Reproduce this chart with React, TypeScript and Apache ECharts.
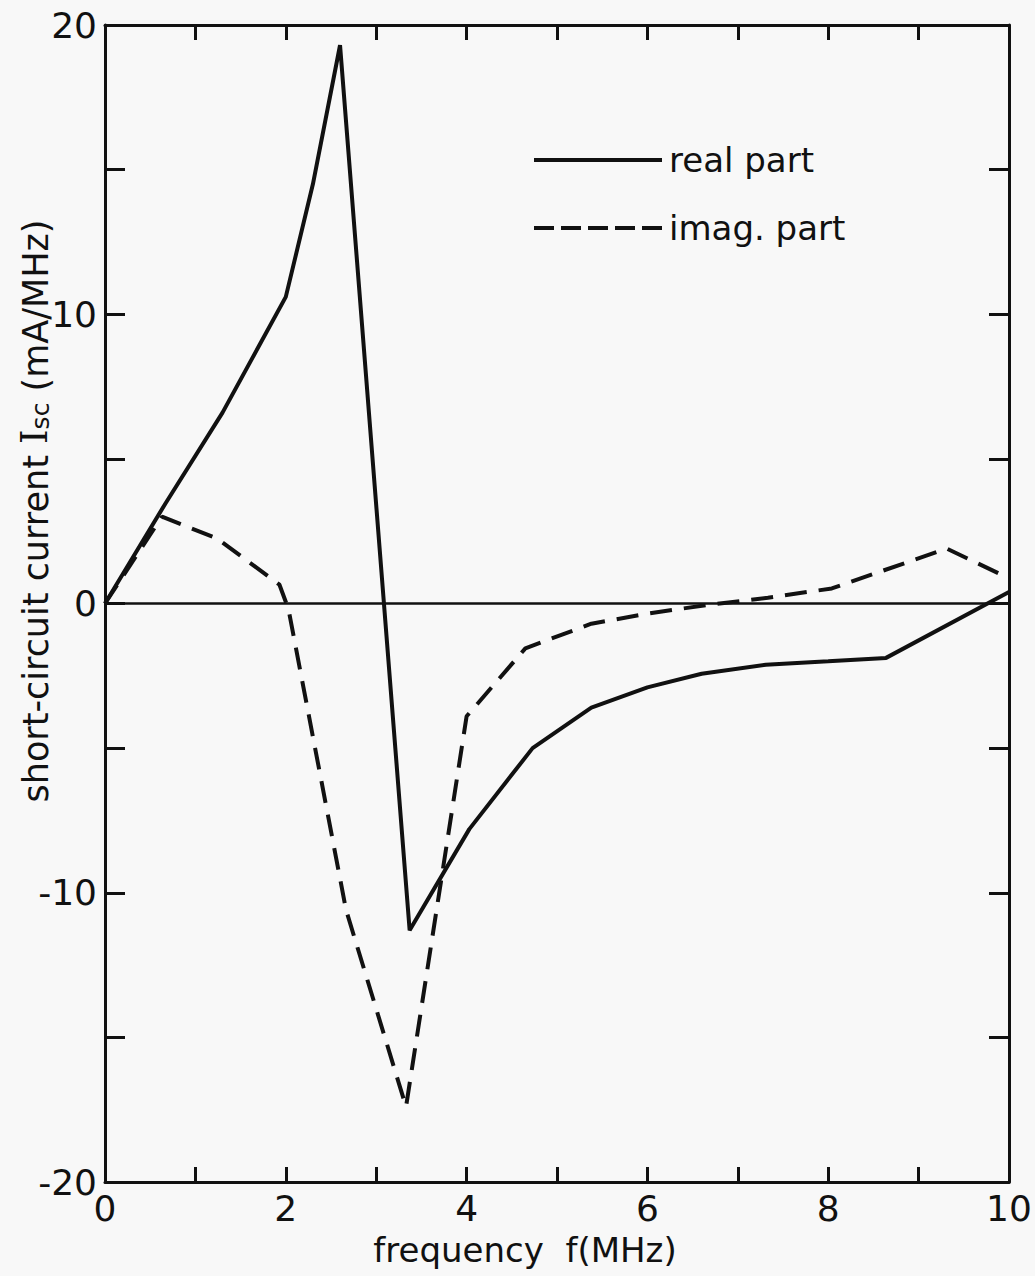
import React, { useEffect, useRef } from "react";
import * as echarts from "echarts";

// real part of short-circuit current (solid)
const realFreq = [0, 0.667, 1.3, 2.0, 2.3, 2.6, 3.37, 4.03, 4.73, 5.38, 6.0, 6.6, 7.31, 8.0, 8.64, 10];
const realVal = [0, 3.45, 6.6, 10.6, 14.5, 19.3, -11.3, -7.8, -5.0, -3.6, -2.9, -2.43, -2.12, -2.0, -1.88, 0.4];

// imaginary part (dashed)
const imagFreq = [0, 0.63, 1.24, 1.93, 2.03, 2.667, 3.33, 4.0, 4.65, 5.38, 6.0, 6.667, 7.333, 8.04, 9.31, 10];
const imagVal = [0, 3.0, 2.25, 0.65, -0.2, -10.6, -17.4, -3.9, -1.55, -0.7, -0.35, -0.05, 0.2, 0.52, 1.9, 0.87];

const xLabels = [0, 2, 4, 6, 8, 10];
const yLabels = [-20, -10, 0, 10, 20];

const seriesNames = ["real part", "imag. part"];

const FONT = "'DejaVu Sans', 'Noto Sans', sans-serif";
const INK = "#111111";

export default function App() {
  const ref = useRef<HTMLDivElement>(null);

  useEffect(() => {
    document.body.style.margin = "0";
    const chart = echarts.init(ref.current!, null, { renderer: "svg" });

    const realData = realFreq.map((f, i) => [f, realVal[i]]);
    const imagData = imagFreq.map((f, i) => [f, imagVal[i]]);

    const axisLine = { show: true, onZero: false, lineStyle: { color: INK, width: 3 } };
    const labelStyle = { color: INK, fontFamily: FONT, fontSize: 36 };

    chart.setOption({
      animation: false,
      backgroundColor: "#f8f8f8",
      grid: { left: 105, right: 26, top: 25, bottom: 94, containLabel: false },
      legend: {
        orient: "vertical",
        left: 527,
        top: 138,
        itemWidth: 128,
        itemHeight: 14,
        itemGap: 34,
        data: [
          { name: seriesNames[0], itemStyle: { opacity: 0 }, lineStyle: { width: 4, type: "solid", color: INK } },
          { name: seriesNames[1], itemStyle: { opacity: 0 }, lineStyle: { width: 4, type: [20, 7], color: INK } },
        ],
        textStyle: { color: INK, fontFamily: FONT, fontSize: 34, padding: [0, 0, 0, 2] },
      },
      xAxis: [
        {
          type: "value",
          min: 0,
          max: 10,
          interval: 1,
          position: "bottom",
          axisLine,
          axisTick: { show: true, inside: true, length: 15, lineStyle: { color: INK, width: 3 } },
          axisLabel: {
            ...labelStyle,
            margin: 8,
            formatter: (v: number) => (xLabels.includes(v) ? String(v) : ""),
          },
          splitLine: { show: false },
        },
        {
          type: "value",
          min: 0,
          max: 10,
          interval: 1,
          position: "top",
          axisLine,
          axisTick: { show: true, inside: true, length: 15, lineStyle: { color: INK, width: 3 } },
          axisLabel: { show: false },
          splitLine: { show: false },
        },
      ],
      yAxis: [
        {
          type: "value",
          min: -20,
          max: 20,
          interval: 5,
          position: "left",
          axisLine,
          axisTick: { show: true, inside: true, length: 20, lineStyle: { color: INK, width: 3 } },
          axisLabel: {
            ...labelStyle,
            margin: 8,
            formatter: (v: number) => (yLabels.includes(v) ? String(v) : ""),
          },
          splitLine: { show: false },
        },
        {
          type: "value",
          min: -20,
          max: 20,
          interval: 5,
          position: "right",
          axisLine,
          axisTick: { show: true, inside: true, length: 20, lineStyle: { color: INK, width: 3 } },
          axisLabel: { show: false },
          splitLine: { show: false },
        },
      ],
      series: [
        {
          name: seriesNames[0],
          type: "line",
          data: realData,
          symbol: "none",
          lineStyle: { color: INK, width: 4, type: "solid" },
          itemStyle: { color: INK },
          markLine: {
            silent: true,
            symbol: "none",
            label: { show: false },
            lineStyle: { color: INK, width: 2.5, type: "solid" },
            data: [{ yAxis: 0 }],
          },
        },
        {
          name: seriesNames[1],
          type: "line",
          data: imagData,
          symbol: "none",
          lineStyle: { color: INK, width: 4, type: [22, 12] },
          itemStyle: { color: INK },
        },
      ],
      graphic: [
        {
          type: "text",
          x: 32,
          y: 511,
          rotation: Math.PI / 2,
          style: {
            text: "{a|short-circuit current }{b|I}{c|sc}{a| (mA/MHz)}",
            align: "center",
            verticalAlign: "middle",
            fill: INK,
            rich: {
              a: { fontFamily: FONT, fontSize: 35, fill: INK, verticalAlign: "bottom", lineHeight: 42 },
              b: { fontFamily: "'DejaVu Serif', serif", fontSize: 37, fill: INK, verticalAlign: "bottom", lineHeight: 42 },
              c: { fontFamily: FONT, fontSize: 25, fill: INK, verticalAlign: "bottom", lineHeight: 16 },
            },
          },
        },
        {
          type: "text",
          x: 525,
          y: 1250,
          style: {
            text: "frequency  f(MHz)",
            align: "center",
            verticalAlign: "middle",
            fontFamily: FONT,
            fontSize: 34,
            fill: INK,
          },
        },
      ],
    });

    return () => chart.dispose();
  }, []);

  return (
    <div
      ref={ref}
      style={{ position: "absolute", left: 0, top: 0, width: 1035, height: 1276 }}
    />
  );
}
